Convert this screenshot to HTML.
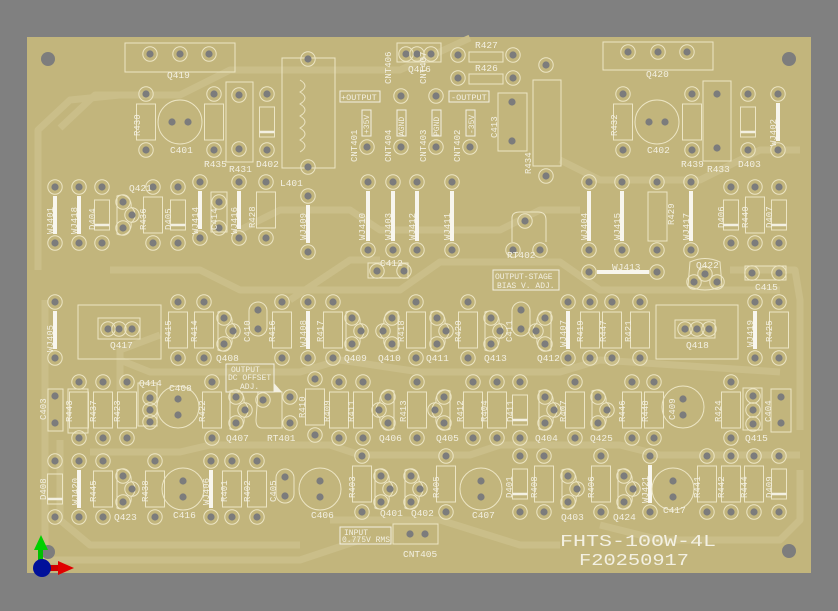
<!DOCTYPE html>
<html><head><meta charset="utf-8"><style>
html,body{margin:0;padding:0;background:#808080;}
svg{display:block;font-size:9.5px}
text{font-family:"Liberation Mono","DejaVu Sans Mono",monospace;fill:#f3f0e2}
</style></head><body>
<svg width="838" height="611" viewBox="0 0 838 611" xmlns="http://www.w3.org/2000/svg">
<defs>
<g id="p"><circle r="7.2" fill="none" stroke="#ece5c4" stroke-width="1"/><circle r="3.6" fill="#7c7c7c"/></g>
<g id="R"><use href="#p"/><use href="#p" y="56"/><rect x="-9.5" y="10" width="19" height="36" fill="none" stroke="#ece5c4" stroke-width="1"/></g>
<g id="J"><use href="#p"/><use href="#p" y="56"/><line x1="0" y1="9" x2="0" y2="47" stroke="#f8f6ee" stroke-width="4"/></g>
<g id="JL"><use href="#p"/><use href="#p" y="68"/><line x1="0" y1="9" x2="0" y2="59" stroke="#f8f6ee" stroke-width="4"/></g>
<g id="D"><use href="#p"/><use href="#p" y="56"/><rect x="-7.5" y="13" width="15" height="30" fill="none" stroke="#ece5c4" stroke-width="1"/><line x1="-7.5" y1="38" x2="7.5" y2="38" stroke="#f3f0e2" stroke-width="2.5"/></g>
<g id="T"><path d="M-6,-19 A10,10 0 0 1 8,-8 A10 10 0 0 1 8,8 A10,10 0 0 1 -6,19 Z" fill="none" stroke="#ece5c4" stroke-width="1"/><use href="#p" y="-13"/><use href="#p" x="9"/><use href="#p" y="13"/></g>
<g id="E"><circle r="22" fill="none" stroke="#ece5c4" stroke-width="1"/><circle cx="-8" r="3.6" fill="#7c7c7c"/><circle cx="8" r="3.6" fill="#7c7c7c"/></g>
<g id="Ev"><circle r="21" fill="none" stroke="#ece5c4" stroke-width="1"/><circle cy="-8" r="3.6" fill="#7c7c7c"/><circle cy="8" r="3.6" fill="#7c7c7c"/></g>
<g id="C"><rect x="-9" y="-3" width="18" height="34" rx="9" fill="none" stroke="#ece5c4" stroke-width="1"/><circle cy="5" r="3.6" fill="#7c7c7c"/><circle cy="24" r="3.6" fill="#7c7c7c"/></g>
</defs>
<rect x="27" y="37" width="784" height="536" fill="#c2b57c"/>
<g fill="none" stroke="#cabe89" stroke-width="7" stroke-linejoin="round">
<path d="M60,128 L95,95 L180,95 L230,70 L320,70 L400,70 L470,38"/>
<path d="M38,270 L38,130 L70,100 L120,95"/>
<path d="M45,300 L45,560 L300,560 L360,540"/>
<path d="M60,440 L60,520 L90,545 L300,545"/>
<path d="M110,270 L200,270 L240,290 L400,290 L440,262 L560,262 L600,290 L780,290"/>
<path d="M120,360 L150,372 L300,372 L340,360 L420,372 L560,372 L600,360 L780,372"/>
<path d="M90,452 L180,452 L210,445 L330,445 L360,455 L470,455 L500,445 L620,445 L660,455 L800,455"/>
<path d="M560,160 L600,180 L700,180 L760,150 L800,150"/>
<path d="M600,525 L660,540 L780,540 L800,520 L800,470"/>
<path d="M240,230 L280,210 L350,210 L380,230 L500,230 L540,210 L580,210"/>
<path d="M730,270 L795,270 L800,300 L800,430"/>
<path d="M330,520 L440,520 L520,545 L560,545"/>
<path d="M120,390 L120,350 L160,335"/>
<path d="M290,300 L350,260 L380,260"/>
</g>
<circle cx="48" cy="59" r="7" fill="#7d7d7d"/><circle cx="789" cy="59" r="7" fill="#7d7d7d"/>
<circle cx="48" cy="552" r="7" fill="#7d7d7d"/><circle cx="789" cy="551" r="7" fill="#7d7d7d"/>

<g stroke="#ece5c4" stroke-width="1" fill="none">
<rect x="125" y="43" width="110" height="29"/><rect x="603" y="42" width="110" height="28"/>
<rect x="226" y="82" width="27" height="80"/><rect x="703" y="81" width="28" height="80"/>
<rect x="282" y="58" width="53" height="110"/>
<rect x="397" y="43" width="44" height="19"/>
<rect x="498" y="93" width="29" height="58"/><rect x="533" y="80" width="28" height="86"/>
<rect x="469" y="52" width="34" height="10"/><rect x="469" y="74" width="34" height="10"/>
<rect x="78" y="305" width="83" height="54"/><rect x="98" y="318" width="42" height="21"/>
<rect x="656" y="305" width="82" height="54"/><rect x="675" y="320" width="40" height="18"/>
<rect x="138" y="383" width="19" height="43"/><rect x="743" y="388" width="19" height="42"/>
<rect x="68" y="389" width="20" height="44"/><rect x="771" y="389" width="20" height="43"/>
<rect x="368" y="263" width="40" height="15"/><rect x="745" y="266" width="41" height="14"/>
<rect x="211" y="192" width="16" height="40"/>
<rect x="393" y="524" width="45" height="20"/>
<path d="M300,80 q10,6 0,12 q10,6 0,12 q10,6 0,12 q10,6 0,12 q10,6 0,12 q10,6 0,12"/>
<path d="M512,222 L512,218 Q512,212 520,212 L538,212 Q546,212 546,220 L546,242 M512,222 L512,242"/>
<path d="M258,392 L282,392 L282,428 L262,428 Q256,428 256,420 Z"/>
</g>
<g stroke="#f3f0e2" stroke-width="1" fill="none">
<rect x="340" y="91" width="40" height="11"/><rect x="449" y="91" width="40" height="11"/>
<rect x="362" y="110" width="9" height="26"/><rect x="397" y="110" width="9" height="26"/>
<rect x="432" y="110" width="9" height="26"/><rect x="466" y="110" width="9" height="26"/>
<rect x="493" y="270" width="66" height="20"/>
<rect x="226" y="364" width="48" height="28"/>
<rect x="340" y="527" width="51" height="17"/>
</g>
<path d="M274,383 L282,392 L274,392Z" fill="#f3f0e2"/>

<use href="#p" x="150" y="54"/><use href="#p" x="180" y="54"/><use href="#p" x="209" y="54"/>
<use href="#p" x="628" y="52"/><use href="#p" x="658" y="52"/><use href="#p" x="687" y="52"/>
<use href="#R" x="146" y="94"/><use href="#E" x="180" y="122"/><use href="#R" x="214" y="94"/>
<use href="#p" x="239" y="95"/><use href="#p" x="239" y="149"/><use href="#D" x="267" y="94"/>
<use href="#p" x="308" y="59"/><use href="#p" x="308" y="167"/>
<use href="#p" x="401" y="96"/><use href="#p" x="436" y="96"/>
<use href="#p" x="367" y="147"/><use href="#p" x="401" y="147"/><use href="#p" x="436" y="147"/><use href="#p" x="470" y="147"/>
<use href="#p" x="406" y="54"/><use href="#p" x="417" y="54"/><use href="#p" x="431" y="54"/>
<use href="#p" x="458" y="55"/><use href="#p" x="513" y="55"/><use href="#p" x="458" y="78"/><use href="#p" x="513" y="78"/>
<circle cx="512" cy="102" r="3.6" fill="#7c7c7c"/><circle cx="512" cy="141" r="3.6" fill="#7c7c7c"/>
<use href="#p" x="546" y="65"/><use href="#p" x="546" y="176"/>
<use href="#R" x="623" y="94"/><use href="#E" x="657" y="122"/><use href="#R" x="692" y="94"/>
<circle cx="717" cy="94" r="3.6" fill="#7c7c7c"/><circle cx="717" cy="148" r="3.6" fill="#7c7c7c"/>
<use href="#D" x="748" y="94"/><use href="#J" x="778" y="94"/>

<use href="#J" x="55" y="187"/><use href="#J" x="79" y="187"/><use href="#D" x="102" y="187"/>
<use href="#T" x="123" y="215"/><use href="#R" x="153" y="187"/><use href="#D" x="178" y="187"/>
<use href="#J" x="200" y="182"/><use href="#p" x="219" y="202"/><use href="#p" x="219" y="228"/>
<use href="#J" x="239" y="182"/><use href="#R" x="266" y="182"/>
<use href="#J" x="308" y="196"/>
<use href="#JL" x="368" y="182"/><use href="#JL" x="393" y="182"/><use href="#JL" x="417" y="182"/><use href="#JL" x="452" y="182"/>
<use href="#p" x="525" y="221"/><use href="#p" x="513" y="250"/><use href="#p" x="540" y="250"/>
<use href="#p" x="377" y="271"/><use href="#p" x="404" y="271"/>
<use href="#JL" x="589" y="182"/><use href="#JL" x="622" y="182"/>
<use href="#p" x="657" y="182"/><use href="#p" x="657" y="250"/><rect x="648" y="192" width="19" height="49" fill="none" stroke="#ece5c4"/>
<use href="#JL" x="691" y="182"/>
<use href="#D" x="731" y="187"/><use href="#R" x="755" y="187"/><use href="#D" x="779" y="187"/>
<use href="#p" x="589" y="272"/><use href="#p" x="657" y="272"/><line x1="597" y1="272" x2="649" y2="272" stroke="#f8f6ee" stroke-width="4"/>
<path d="M690,262 Q705,255 720,262 L722,286 Q705,294 688,286Z" fill="none" stroke="#ece5c4"/>
<use href="#p" x="694" y="282"/><use href="#p" x="705" y="274"/><use href="#p" x="717" y="282"/>
<use href="#p" x="752" y="273"/><use href="#p" x="779" y="273"/>

<use href="#J" x="55" y="302"/>
<use href="#p" x="108" y="329"/><use href="#p" x="119" y="329"/><use href="#p" x="132" y="329"/>
<use href="#R" x="178" y="302"/><use href="#R" x="204" y="302"/>
<use href="#T" x="224" y="331"/><use href="#C" x="258" y="305"/>
<use href="#R" x="282" y="302"/><use href="#J" x="308" y="302"/><use href="#R" x="333" y="302"/>
<use href="#T" x="352" y="331"/><use href="#T" x="392" y="331" transform="translate(784 0) scale(-1 1)"/>
<use href="#R" x="416" y="302"/><use href="#T" x="437" y="331"/><use href="#R" x="468" y="302"/>
<use href="#T" x="491" y="331"/><use href="#C" x="521" y="305"/><use href="#T" x="545" y="331" transform="translate(1090 0) scale(-1 1)"/>
<use href="#J" x="568" y="302"/><use href="#R" x="590" y="302"/><use href="#R" x="612" y="302"/><use href="#R" x="640" y="302"/>
<use href="#p" x="685" y="329"/><use href="#p" x="697" y="329"/><use href="#p" x="709" y="329"/>
<use href="#J" x="755" y="302"/><use href="#R" x="779" y="302"/>

<circle cx="55" cy="396" r="3.6" fill="#7c7c7c"/><circle cx="55" cy="423" r="3.6" fill="#7c7c7c"/>
<rect x="48" y="389" width="15" height="42" fill="none" stroke="#ece5c4"/>
<use href="#R" x="79" y="382"/><use href="#R" x="103" y="382"/><use href="#R" x="127" y="382"/>
<use href="#p" x="150" y="398"/><use href="#p" x="150" y="410"/><use href="#p" x="150" y="422"/>
<use href="#Ev" x="178" y="407"/><use href="#R" x="212" y="382"/>
<use href="#T" x="236" y="410"/>
<use href="#p" x="263" y="400"/><use href="#p" x="290" y="397"/><use href="#p" x="290" y="423"/>
<use href="#R" x="315" y="379"/><use href="#R" x="339" y="382"/><use href="#R" x="363" y="382"/>
<use href="#T" x="388" y="410" transform="translate(776 0) scale(-1 1)"/>
<use href="#R" x="417" y="382"/><use href="#T" x="444" y="410" transform="translate(888 0) scale(-1 1)"/>
<use href="#R" x="473" y="382"/><use href="#R" x="497" y="382"/><use href="#D" x="520" y="382"/>
<use href="#T" x="545" y="410"/><use href="#R" x="575" y="382"/><use href="#T" x="598" y="410"/>
<use href="#R" x="632" y="382"/><use href="#R" x="654" y="382"/>
<use href="#Ev" x="683" y="407"/><use href="#R" x="731" y="382"/>
<use href="#p" x="753" y="396"/><use href="#p" x="753" y="410"/><use href="#p" x="753" y="424"/>
<circle cx="781" cy="397" r="3.6" fill="#7c7c7c"/><circle cx="781" cy="423" r="3.6" fill="#7c7c7c"/>

<use href="#D" x="55" y="461"/><use href="#J" x="79" y="461"/><use href="#R" x="103" y="461"/>
<use href="#T" x="123" y="489"/><use href="#R" x="155" y="461"/><use href="#Ev" x="183" y="489"/>
<use href="#J" x="211" y="461"/><use href="#R" x="232" y="461"/><use href="#R" x="257" y="461"/>
<use href="#C" x="285" y="472"/><use href="#Ev" x="320" y="489"/>
<use href="#R" x="362" y="456"/><use href="#T" x="381" y="489"/><use href="#T" x="411" y="489"/>
<use href="#R" x="446" y="456"/><use href="#Ev" x="481" y="489"/>
<use href="#D" x="520" y="456"/><use href="#R" x="544" y="456"/><use href="#T" x="568" y="489"/>
<use href="#R" x="601" y="456"/><use href="#T" x="624" y="489"/><use href="#J" x="650" y="456"/>
<use href="#Ev" x="673" y="489"/><use href="#R" x="707" y="456"/><use href="#R" x="731" y="456"/><use href="#R" x="754" y="456"/>
<use href="#D" x="779" y="456"/>
<circle cx="410" cy="534" r="3.6" fill="#7c7c7c"/><circle cx="425" cy="534" r="3.6" fill="#7c7c7c"/>

<g>
<text x="167" y="78">Q419</text><text x="646" y="77">Q420</text><text x="408" y="72">Q416</text>
<text x="475" y="48">R427</text><text x="475" y="71">R426</text>
<text x="170" y="153">C401</text><text x="204" y="167">R435</text><text x="229" y="172">R431</text><text x="256" y="167">D402</text>
<text x="280" y="186">L401</text>
<text x="647" y="153">C402</text><text x="681" y="167">R439</text><text x="707" y="172">R433</text><text x="738" y="167">D403</text>
<text x="341" y="100" font-size="8.5">+OUTPUT</text><text x="451" y="100" font-size="8.5">-OUTPUT</text>
<text x="129" y="191">Q421</text>
<text x="380" y="266">C412</text><text x="507" y="258">RT402</text>
<text x="495" y="279" font-size="8">OUTPUT-STAGE</text><text x="497" y="288" font-size="8">BIAS V. ADJ.</text>
<text x="612" y="270">WJ413</text><text x="696" y="268">Q422</text><text x="755" y="290">C415</text>
<text x="110" y="348">Q417</text><text x="686" y="348">Q418</text>
<text x="216" y="361">Q408</text><text x="344" y="361">Q409</text><text x="378" y="361">Q410</text><text x="426" y="361">Q411</text><text x="484" y="361">Q413</text><text x="537" y="361">Q412</text>
<text x="231" y="372" font-size="8">OUTPUT</text><text x="228" y="380" font-size="8">DC OFFSET</text><text x="240" y="389" font-size="8">ADJ.</text>
<text x="139" y="386">Q414</text><text x="169" y="391">C408</text>
<text x="226" y="441">Q407</text><text x="267" y="441">RT401</text><text x="379" y="441">Q406</text><text x="436" y="441">Q405</text><text x="535" y="441">Q404</text><text x="590" y="441">Q425</text><text x="745" y="441">Q415</text>
<text x="114" y="520">Q423</text><text x="173" y="518">C416</text><text x="311" y="518">C406</text><text x="380" y="516">Q401</text><text x="411" y="516">Q402</text><text x="472" y="518">C407</text>
<text x="561" y="520">Q403</text><text x="613" y="520">Q424</text><text x="663" y="513">C417</text>
<text x="344" y="535" font-size="8">INPUT</text><text x="342" y="542" font-size="8">0.775V RMS</text>
<text x="403" y="557">CNT405</text>
<text x="560" y="546" font-size="16.5" textLength="156" lengthAdjust="spacingAndGlyphs">FHTS-100W-4L</text>
<text x="579" y="565" font-size="16.5" textLength="110" lengthAdjust="spacingAndGlyphs">F20250917</text>
</g>
<g font-size="9">
<text transform="translate(140,136) rotate(-90)">R430</text>
<text transform="translate(617,136) rotate(-90)">R432</text>
<text transform="translate(369,134) rotate(-90)" font-size="8">+35V</text>
<text transform="translate(404,136) rotate(-90)" font-size="8">AGND</text>
<text transform="translate(439,136) rotate(-90)" font-size="8">PGND</text>
<text transform="translate(474,134) rotate(-90)" font-size="8">-35V</text>
<text transform="translate(391,84) rotate(-90)">CNT406</text><text transform="translate(426,84) rotate(-90)">CNT407</text>
<text transform="translate(357,162) rotate(-90)">CNT401</text><text transform="translate(391,162) rotate(-90)">CNT404</text>
<text transform="translate(426,162) rotate(-90)">CNT403</text><text transform="translate(460,162) rotate(-90)">CNT402</text>
<text transform="translate(497,138) rotate(-90)">C413</text><text transform="translate(531,174) rotate(-90)">R434</text>
<text transform="translate(53,234) rotate(-90)">WJ401</text><text transform="translate(77,234) rotate(-90)">WJ418</text>
<text transform="translate(95,230) rotate(-90)">D404</text><text transform="translate(146,230) rotate(-90)">R436</text>
<text transform="translate(171,230) rotate(-90)">D405</text><text transform="translate(198,234) rotate(-90)">WJ414</text>
<text transform="translate(217,230) rotate(-90)">C414</text><text transform="translate(237,234) rotate(-90)">WJ416</text>
<text transform="translate(255,228) rotate(-90)">R428</text><text transform="translate(306,240) rotate(-90)">WJ409</text>
<text transform="translate(365,240) rotate(-90)">WJ410</text><text transform="translate(391,240) rotate(-90)">WJ403</text>
<text transform="translate(415,240) rotate(-90)">WJ412</text><text transform="translate(450,240) rotate(-90)">WJ411</text>
<text transform="translate(587,240) rotate(-90)">WJ404</text><text transform="translate(620,240) rotate(-90)">WJ415</text>
<text transform="translate(674,225) rotate(-90)">R429</text><text transform="translate(689,240) rotate(-90)">WJ417</text>
<text transform="translate(724,228) rotate(-90)">D406</text><text transform="translate(748,228) rotate(-90)">R440</text>
<text transform="translate(772,228) rotate(-90)">D407</text><text transform="translate(776,146) rotate(-90)">WJ402</text>
<text transform="translate(53,352) rotate(-90)">WJ405</text><text transform="translate(171,342) rotate(-90)">R415</text>
<text transform="translate(197,342) rotate(-90)">R414</text><text transform="translate(250,342) rotate(-90)">C410</text>
<text transform="translate(275,342) rotate(-90)">R416</text><text transform="translate(306,347) rotate(-90)">WJ408</text>
<text transform="translate(323,342) rotate(-90)">R417</text><text transform="translate(404,342) rotate(-90)">R418</text>
<text transform="translate(461,342) rotate(-90)">R420</text><text transform="translate(512,342) rotate(-90)">C411</text>
<text transform="translate(566,347) rotate(-90)">WJ407</text><text transform="translate(583,342) rotate(-90)">R419</text>
<text transform="translate(606,342) rotate(-90)">R447</text><text transform="translate(631,342) rotate(-90)">R421</text>
<text transform="translate(753,347) rotate(-90)">WJ419</text><text transform="translate(772,342) rotate(-90)">R425</text>
<text transform="translate(46,420) rotate(-90)">C403</text><text transform="translate(72,422) rotate(-90)">R443</text>
<text transform="translate(96,422) rotate(-90)">R437</text><text transform="translate(120,422) rotate(-90)">R423</text>
<text transform="translate(205,422) rotate(-90)">R422</text><text transform="translate(305,418) rotate(-90)">R410</text>
<text transform="translate(330,422) rotate(-90)">R409</text><text transform="translate(354,422) rotate(-90)">R411</text>
<text transform="translate(406,422) rotate(-90)">R413</text><text transform="translate(463,422) rotate(-90)">R412</text>
<text transform="translate(487,422) rotate(-90)">R404</text><text transform="translate(513,422) rotate(-90)">D411</text>
<text transform="translate(566,422) rotate(-90)">R407</text><text transform="translate(625,422) rotate(-90)">R446</text>
<text transform="translate(648,422) rotate(-90)">R448</text><text transform="translate(675,420) rotate(-90)">C409</text>
<text transform="translate(721,422) rotate(-90)">R424</text><text transform="translate(771,422) rotate(-90)">C404</text>
<text transform="translate(46,500) rotate(-90)">D408</text><text transform="translate(78,505) rotate(-90)">WJ420</text>
<text transform="translate(96,502) rotate(-90)">R445</text><text transform="translate(148,502) rotate(-90)">R438</text>
<text transform="translate(209,505) rotate(-90)">WJ406</text><text transform="translate(227,502) rotate(-90)">R401</text>
<text transform="translate(250,502) rotate(-90)">R402</text><text transform="translate(276,502) rotate(-90)">C405</text>
<text transform="translate(355,498) rotate(-90)">R403</text><text transform="translate(439,498) rotate(-90)">R405</text>
<text transform="translate(512,498) rotate(-90)">D401</text><text transform="translate(537,498) rotate(-90)">R408</text>
<text transform="translate(594,498) rotate(-90)">R406</text><text transform="translate(648,503) rotate(-90)">WJ421</text>
<text transform="translate(700,498) rotate(-90)">R441</text><text transform="translate(724,498) rotate(-90)">R442</text>
<text transform="translate(747,498) rotate(-90)">R444</text><text transform="translate(772,498) rotate(-90)">D409</text>
</g>
<rect x="38" y="548" width="5" height="14" fill="#00c000"/><path d="M34,550 L41,535 L48,550Z" fill="#00d000"/>
<rect x="45" y="565" width="14" height="6" fill="#d00000"/><path d="M58,561 L74,568 L58,575Z" fill="#e00000"/>
<circle cx="42" cy="568" r="9" fill="#00109a"/>
</svg>
</body></html>
